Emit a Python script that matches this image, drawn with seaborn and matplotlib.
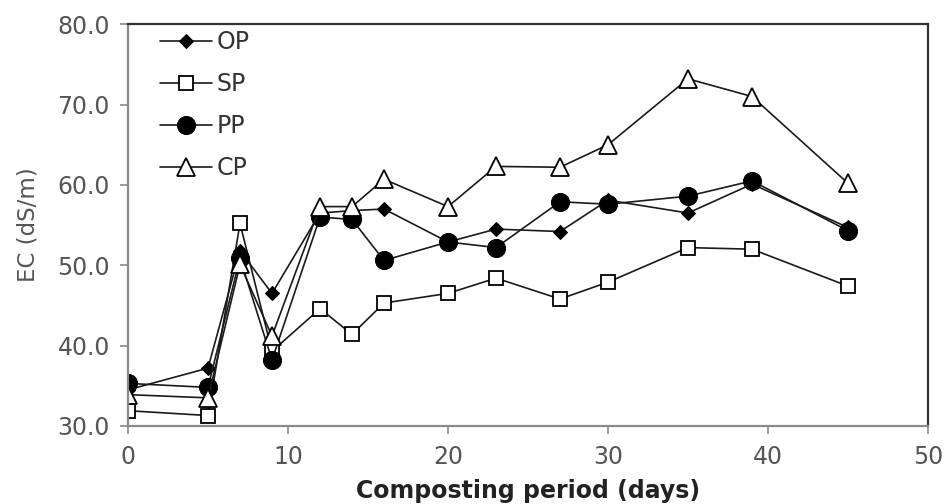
import matplotlib
matplotlib.use("Agg")
import matplotlib.pyplot as plt
import seaborn as sns
import pandas as pd

# Electrical conductivity during composting
days = [0, 5, 7, 9, 12, 14, 16, 20, 23, 27, 30, 35, 39, 45]
op = [34.5, 37.2, 51.8, 46.5, 56.5, 56.8, 57.0, 52.9, 54.5, 54.2, 58.1, 56.5, 60.1, 54.7]
sp = [31.9, 31.3, 55.2, 39.3, 44.6, 41.4, 45.3, 46.5, 48.4, 45.8, 47.9, 52.2, 52.0, 47.4]
pp = [35.3, 34.8, 50.9, 38.2, 56.0, 55.7, 50.6, 52.9, 52.2, 57.9, 57.6, 58.6, 60.5, 54.3]
cp = [33.9, 33.5, 50.1, 41.2, 57.3, 57.3, 60.7, 57.3, 62.3, 62.2, 65.0, 73.2, 71.0, 60.2]

series_names = ["OP", "SP", "PP", "CP"]
series_values = [op, sp, pp, cp]
x_ticks = [0, 10, 20, 30, 40, 50]
y_ticks = [30, 40, 50, 60, 70, 80]

sns.set_theme(style="white")
plt.rcParams["font.family"] = ["DejaVu Sans"]

styles = {
    "OP": dict(marker="D", markersize=7.5, markerfacecolor="black", markeredgecolor="black"),
    "SP": dict(marker="s", markersize=10.5, markerfacecolor="white", markeredgecolor="black", markeredgewidth=1.3),
    "PP": dict(marker="o", markersize=13, markerfacecolor="black", markeredgecolor="black"),
    "CP": dict(marker="^", markersize=13.5, markerfacecolor="white", markeredgecolor="black", markeredgewidth=1.3),
}

fig = plt.figure(figsize=(9.46, 5.04), dpi=100)
ax = fig.add_axes([0.1353, 0.1548, 0.8457, 0.7972])

for name, vals in zip(series_names, series_values):
    df = pd.DataFrame({"day": days, "ec": vals})
    sns.lineplot(data=df, x="day", y="ec", ax=ax, color="#1a1a1a", linewidth=1.2,
                 label=name, **styles[name])

ax.set_xlim(0, 50)
ax.set_ylim(30, 80)
ax.set_xticks(x_ticks)
ax.set_yticks(y_ticks)
ax.set_yticklabels([f"{v:.1f}" for v in y_ticks])
ax.tick_params(axis="both", which="major", direction="out", length=6, width=1.2,
               color="#8a8a8a", labelsize=17, labelcolor="#555555", left=True, bottom=True)
ax.tick_params(axis="y", pad=7)
ax.tick_params(axis="x", pad=8)

for side in ["left", "bottom"]:
    ax.spines[side].set_color("#8a8a8a")
    ax.spines[side].set_linewidth(1.6)
for side in ["top", "right"]:
    ax.spines[side].set_color("#333333")
    ax.spines[side].set_linewidth(1.6)

ax.set_xlabel("Composting period (days)", fontsize=17, fontweight="bold", color="#222222", labelpad=7)
ax.set_ylabel("EC (dS/m)", fontsize=16.5, color="#555555", labelpad=13)

leg = ax.legend(loc="upper left", bbox_to_anchor=(0.027, 1.012), frameon=False,
                fontsize=17, handlelength=2.2, handletextpad=0.2, labelspacing=0.76,
                borderaxespad=0.05)
for t in leg.get_texts():
    t.set_color("#333333")

fig.savefig("out.png", dpi=100, facecolor="white")
